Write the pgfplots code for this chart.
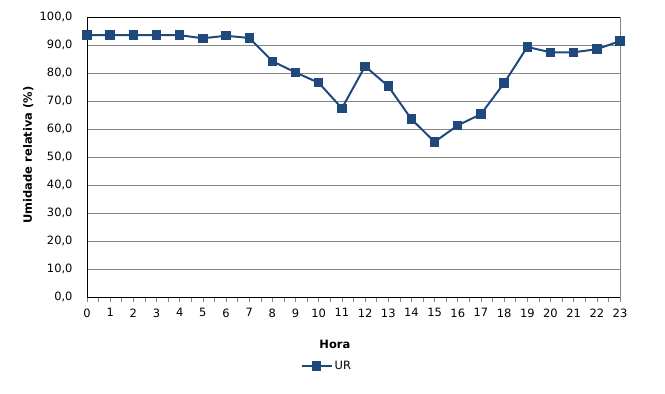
\documentclass[border=0pt]{standalone}
\usepackage{pgfplots}
\pgfplotsset{compat=1.18}
\usepackage{fontspec}
\setmainfont{DejaVu Sans}
\definecolor{ur}{HTML}{1F497D}
\definecolor{gridc}{HTML}{868686}
\begin{document}
\begin{tikzpicture}[x=1bp,y=1bp]
\begin{axis}[
  scale only axis, width=533bp, height=280bp,
  xmin=0, xmax=23, ymin=0, ymax=100,
  xtick={0,...,23}, minor xtick={0.5,1.5,...,22.5},
  ytick={0,10,...,100},
  axis line style={draw=none},
  ymajorgrids, grid style={gridc, line width=0.8pt},
  major x tick style={gridc, line width=0.6pt}, minor x tick style={gridc, line width=0.6pt},
  major y tick style={draw=none},
  xtick pos=bottom, xtick align=outside,
  major tick length=5bp, minor tick length=5bp,
  yticklabel style={/pgf/number format/.cd, fixed, fixed zerofill, precision=1, use comma, assume math mode=true},
  xticklabel style={/pgf/number format/assume math mode=true},
  tick label style={font=\fontsize{11.5}{12}\selectfont, text=black},
  xticklabel shift=3bp, yticklabel shift=11bp,
  xlabel={\textbf{Hora}}, ylabel={\textbf{Umidade relativa (\%)}},
  label style={font=\fontsize{11.5}{12}\selectfont},
  xlabel style={at={(rel axis cs:0.465,-0.171)}, anchor=center},
  ylabel style={at={(rel axis cs:-0.11,0.507)}, anchor=center, rotate=0},
  legend style={at={(rel axis cs:0.45,-0.246)}, anchor=center, draw=none, font=\fontsize{11.5}{12}\selectfont, inner sep=0pt},
  legend image code/.code={\draw[#1, mark repeat=2, mark phase=2] plot coordinates {(0bp,0bp) (15bp,0bp) (30bp,0bp)};},
  clip=false,
]
\addplot[ur, line width=2pt, mark=square*, mark size=4.2bp, mark options={fill=ur, draw=ur, line width=0pt}] coordinates {
(0,93.5) (1,93.5) (2,93.5) (3,93.5) (4,93.5) (5,92.4) (6,93.3) (7,92.5)
(8,84.2) (9,80.2) (10,76.5) (11,67.4) (12,82.4) (13,75.3) (14,63.5) (15,55.4)
(16,61.3) (17,65.3) (18,76.4) (19,89.3) (20,87.4) (21,87.4) (22,88.5) (23,91.4)
};
\addlegendentry{UR}
\draw[black, line width=0.8pt] (rel axis cs:0,1) -- (rel axis cs:0,0) -- (rel axis cs:1,0);
\draw[black, line width=0.8pt] (rel axis cs:0,1) -- (rel axis cs:1,1);
\draw[gridc, line width=0.8pt] (rel axis cs:1,0) -- (rel axis cs:1,1);
\coordinate (bl) at (rel axis cs:0,0);
\coordinate (tr) at (rel axis cs:1,1);
\end{axis}
\pgfresetboundingbox
\path[use as bounding box] ([xshift=-87bp,yshift=-97bp]bl) rectangle ([xshift=45bp,yshift=17bp]tr);
\end{tikzpicture}
\end{document}
